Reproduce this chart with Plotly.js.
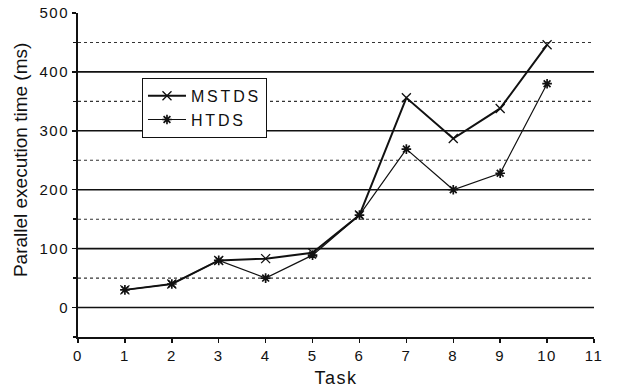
<!DOCTYPE html>
<html>
<head>
<meta charset="utf-8">
<script src="https://cdn.plot.ly/plotly-3.0.1.min.js"></script>
<style>
html,body{margin:0;padding:0;background:#fff;}
#chart{width:623px;height:390px;}
.legendtext{letter-spacing:2.8px;}
.xtick text, .ytick text{letter-spacing:1.5px;}
.xtitle{letter-spacing:1.5px;}
</style>
</head>
<body>
<div id="chart"></div>
<script>
const tasks = [1, 2, 3, 4, 5, 6, 7, 8, 9, 10];
const mstds = [30, 40, 80, 83, 93, 157, 356, 287, 338, 446];
const htds = [30, 40, 80, 50, 89, 157, 269, 200, 228, 380];
const majorGrid = [0, 100, 200, 300, 400];
const minorGrid = [50, 150, 250, 350, 450];
const xTicks = [0, 1, 2, 3, 4, 5, 6, 7, 8, 9, 10, 11];
const yTicks = [0, 100, 200, 300, 400, 500];
const yTitle = 'Parallel execution time (ms)';
const xTitle = 'Task';

const shapes = [];
majorGrid.forEach(v => shapes.push({type:'line', xref:'x', yref:'y', x0:0, x1:11, y0:v, y1:v, layer:'below', line:{color:'#111', width:1.6}}));
minorGrid.forEach(v => shapes.push({type:'line', xref:'x', yref:'y', x0:0, x1:11, y0:v, y1:v, layer:'below', line:{color:'#333', width:1.1, dash:'dot'}}));

const traces = [
  {x: tasks, y: mstds, name: 'MSTDS', type: 'scatter', mode: 'lines+markers',
   line: {color: '#111', width: 2},
   marker: {symbol: 'x-thin-open', size: 9, color: '#111', line: {color: '#111', width: 1.3}}},
  {x: tasks, y: htds, name: 'HTDS', type: 'scatter', mode: 'lines+markers',
   line: {color: '#111', width: 1.2},
   marker: {symbol: 'asterisk-open', size: 8, color: '#111', line: {color: '#111', width: 1.7}}}
];

const layout = {
  width: 623, height: 390,
  margin: {l: 78, r: 29, t: 13, b: 53},
  paper_bgcolor: '#fff', plot_bgcolor: '#fff',
  font: {family: 'Liberation Sans, Arial, sans-serif', color: '#111', size: 14},
  showlegend: true,
  legend: {x: 0.124, y: 0.80, xanchor: 'left', yanchor: 'top', bgcolor: '#fff',
           bordercolor: '#111', borderwidth: 1, font: {size: 16}, tracegroupgap: 0,
           itemwidth: 38},
  xaxis: {range: [0, 11], tickvals: xTicks, ticktext: xTicks.map(String),
          showgrid: false, zeroline: false, showline: true, linecolor: '#111', linewidth: 2,
          ticks: 'outside', ticklen: 4, tickwidth: 1.5, tickcolor: '#111',
          tickfont: {size: 15},
          title: {text: xTitle, font: {size: 18}, standoff: 8}},
  yaxis: {range: [-50, 500], tickvals: yTicks, ticktext: yTicks.map(String),
          showgrid: false, zeroline: false, showline: true, linecolor: '#111', linewidth: 2,
          ticks: 'outside', ticklen: 4, tickwidth: 1.5, tickcolor: '#111',
          tickfont: {size: 15},
          minor: {tickvals: [-50, 50, 150, 250, 350, 450], ticks: 'outside', ticklen: 3, tickcolor: '#111', showgrid: false}},
  annotations: [{text: yTitle, xref: 'paper', yref: 'paper', x: -0.1124, y: 0.546,
                 xanchor: 'center', yanchor: 'middle', textangle: -90, showarrow: false,
                 font: {size: 19}}],
  shapes: shapes
};

Plotly.newPlot('chart', traces, layout, {displayModeBar: false, staticPlot: true});
</script>
</body>
</html>
